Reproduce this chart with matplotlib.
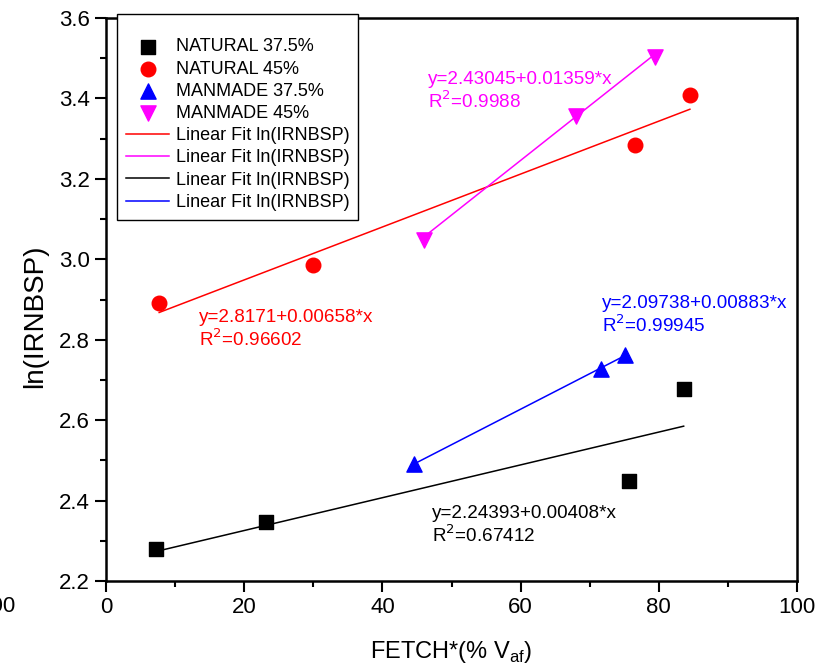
import numpy as np
import matplotlib.pyplot as plt

plt.rcParams['font.family'] = ['Liberation Sans', 'DejaVu Sans']

# data
nat375_x = [7.2, 23.2, 75.7, 83.6]
nat375_y = [2.279, 2.347, 2.449, 2.677]
nat45_x = [7.7, 29.9, 76.6, 84.5]
nat45_y = [2.891, 2.985, 3.284, 3.409]
man375_x = [44.6, 71.6, 75.1]
man375_y = [2.492, 2.728, 2.762]
man45_x = [46.0, 68.0, 79.4]
man45_y = [3.048, 3.356, 3.502]

# linear fits (intercept, slope, R^2)
fit_nat375 = (2.24393, 0.00408, 0.67412)
fit_nat45 = (2.8171, 0.00658, 0.96602)
fit_man375 = (2.09738, 0.00883, 0.99945)
fit_man45 = (2.43045, 0.01359, 0.9988)

fig = plt.figure(figsize=(8.31, 6.69), dpi=100)
ax = fig.add_axes([106/831, 1-581/669, 691/831, 563/669])

h1 = ax.scatter(nat375_x, nat375_y, marker='s', s=90, c='black', label='NATURAL 37.5%', zorder=3)
h2 = ax.scatter(nat45_x, nat45_y, marker='o', s=110, c='red', label='NATURAL 45%', zorder=3)
h3 = ax.scatter(man375_x, man375_y, marker='^', s=120, c='blue', label='MANMADE 37.5%', zorder=3)
h4 = ax.scatter(man45_x, man45_y, marker='v', s=120, c='magenta', label='MANMADE 45%', zorder=3)

def fit_line(xs, fit, color):
    x = np.array([min(xs), max(xs)])
    return ax.plot(x, fit[0] + fit[1]*x, color=color, lw=1.1, label='Linear Fit ln(IRNBSP)')[0]

l1 = fit_line(nat45_x, fit_nat45, 'red')
l2 = fit_line(man45_x, fit_man45, 'magenta')
l3 = fit_line(nat375_x, fit_nat375, 'black')
l4 = fit_line(man375_x, fit_man375, 'blue')

def annot(xp, yp, fit, color):
    fig.text(xp/831, 1-yp/669, 'y=%g+%.5f*x' % (fit[0], fit[1]), color=color,
             fontsize=13.6, va='baseline')
    fig.text(xp/831, 1-(yp+24)/669, 'R$^2$=%g' % fit[2], color=color,
             fontsize=13.6, va='baseline')

annot(428, 84, fit_man45, 'magenta')
annot(199, 322, fit_nat45, 'red')
annot(602, 308, fit_man375, 'blue')
annot(432, 518, fit_nat375, 'black')

ax.set_xlim(0, 100)
ax.set_ylim(2.2, 3.6)
ax.set_xticks(np.arange(0, 101, 20))
ax.set_xticks(np.arange(0, 101, 10), minor=True)
ax.set_yticks(np.arange(2.2, 3.61, 0.2))
ax.set_yticks(np.arange(2.2, 3.61, 0.1), minor=True)
ax.yaxis.set_major_formatter(plt.FormatStrFormatter('%.1f'))
ax.tick_params(which='major', direction='out', length=8, width=1.5, labelsize=16)
ax.tick_params(which='minor', direction='out', length=4, width=1.5)
for s in ax.spines.values():
    s.set_linewidth(1.8)

ax.set_xlabel('FETCH*(% V$_{\\mathregular{af}}$)', fontsize=17, labelpad=15)
ax.set_ylabel('ln(IRNBSP)', fontsize=20)
ax.yaxis.set_label_coords(-0.084, 0.47)

leg = ax.legend(handles=[h1, h2, h3, h4, l1, l2, l3, l4], loc='upper left',
                bbox_to_anchor=(117/831, 1-14/669), bbox_transform=fig.transFigure,
                borderaxespad=0, fancybox=False, edgecolor='black', fontsize=13,
                handlelength=2.4, handletextpad=0.35, labelspacing=0.29,
                borderpad=0.5, framealpha=1, title=' ', title_fontsize=7)
leg.get_frame().set_linewidth(1.0)

# partial tick label from a neighbouring panel, cut at the left edge
fig.text(16/831, 1-612/669, '100', ha='right', fontsize=16)

fig.savefig('out.png', dpi=100)
